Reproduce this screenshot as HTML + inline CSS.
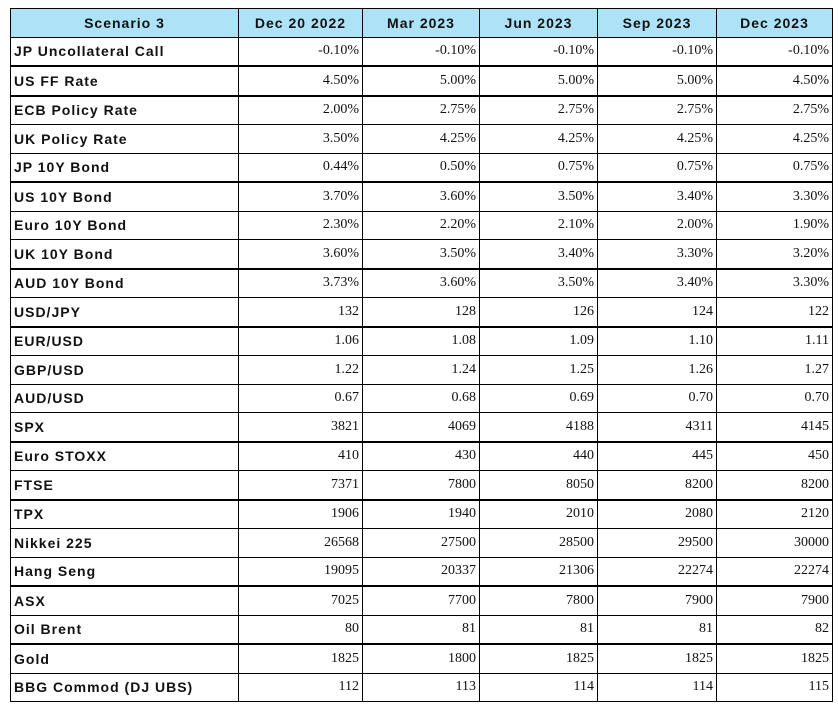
<!DOCTYPE html>
<html><head><meta charset="utf-8"><style>
body{margin:0;width:838px;height:710px;background:#fff;overflow:hidden}
table{position:absolute;left:10px;top:8px;border-collapse:collapse;table-layout:fixed;width:822px}
td,th{border:1px solid #000;height:27.5px;padding:0;white-space:nowrap;overflow:hidden;line-height:16px}
th{background:#aee3f7;font:bold 14px "Liberation Sans",sans-serif;letter-spacing:1px;text-align:center;color:#111}
td.l{font:bold 14px "Liberation Sans",sans-serif;letter-spacing:1px;padding-left:3px;color:#111}
td.v{font:14px "Liberation Serif",serif;text-align:right;padding-right:3px;color:#111}
tr.t td{border-bottom:2px solid #000}
</style></head><body>
<table>
<colgroup><col style="width:228px"><col style="width:124px"><col style="width:117px"><col style="width:118px"><col style="width:119px"><col style="width:116px"></colgroup>
<tr><th>Scenario 3</th><th>Dec 20 2022</th><th>Mar 2023</th><th>Jun 2023</th><th>Sep 2023</th><th>Dec 2023</th></tr>
<tr class="t"><td class="l">JP Uncollateral Call</td><td class="v">-0.10%</td><td class="v">-0.10%</td><td class="v">-0.10%</td><td class="v">-0.10%</td><td class="v">-0.10%</td></tr>
<tr class="t"><td class="l">US FF Rate</td><td class="v">4.50%</td><td class="v">5.00%</td><td class="v">5.00%</td><td class="v">5.00%</td><td class="v">4.50%</td></tr>
<tr><td class="l">ECB Policy Rate</td><td class="v">2.00%</td><td class="v">2.75%</td><td class="v">2.75%</td><td class="v">2.75%</td><td class="v">2.75%</td></tr>
<tr><td class="l">UK Policy Rate</td><td class="v">3.50%</td><td class="v">4.25%</td><td class="v">4.25%</td><td class="v">4.25%</td><td class="v">4.25%</td></tr>
<tr class="t"><td class="l">JP 10Y Bond</td><td class="v">0.44%</td><td class="v">0.50%</td><td class="v">0.75%</td><td class="v">0.75%</td><td class="v">0.75%</td></tr>
<tr><td class="l">US 10Y Bond</td><td class="v">3.70%</td><td class="v">3.60%</td><td class="v">3.50%</td><td class="v">3.40%</td><td class="v">3.30%</td></tr>
<tr><td class="l">Euro 10Y Bond</td><td class="v">2.30%</td><td class="v">2.20%</td><td class="v">2.10%</td><td class="v">2.00%</td><td class="v">1.90%</td></tr>
<tr class="t"><td class="l">UK 10Y Bond</td><td class="v">3.60%</td><td class="v">3.50%</td><td class="v">3.40%</td><td class="v">3.30%</td><td class="v">3.20%</td></tr>
<tr><td class="l">AUD 10Y Bond</td><td class="v">3.73%</td><td class="v">3.60%</td><td class="v">3.50%</td><td class="v">3.40%</td><td class="v">3.30%</td></tr>
<tr class="t"><td class="l">USD/JPY</td><td class="v">132</td><td class="v">128</td><td class="v">126</td><td class="v">124</td><td class="v">122</td></tr>
<tr><td class="l">EUR/USD</td><td class="v">1.06</td><td class="v">1.08</td><td class="v">1.09</td><td class="v">1.10</td><td class="v">1.11</td></tr>
<tr><td class="l">GBP/USD</td><td class="v">1.22</td><td class="v">1.24</td><td class="v">1.25</td><td class="v">1.26</td><td class="v">1.27</td></tr>
<tr><td class="l">AUD/USD</td><td class="v">0.67</td><td class="v">0.68</td><td class="v">0.69</td><td class="v">0.70</td><td class="v">0.70</td></tr>
<tr class="t"><td class="l">SPX</td><td class="v">3821</td><td class="v">4069</td><td class="v">4188</td><td class="v">4311</td><td class="v">4145</td></tr>
<tr><td class="l">Euro STOXX</td><td class="v">410</td><td class="v">430</td><td class="v">440</td><td class="v">445</td><td class="v">450</td></tr>
<tr class="t"><td class="l">FTSE</td><td class="v">7371</td><td class="v">7800</td><td class="v">8050</td><td class="v">8200</td><td class="v">8200</td></tr>
<tr><td class="l">TPX</td><td class="v">1906</td><td class="v">1940</td><td class="v">2010</td><td class="v">2080</td><td class="v">2120</td></tr>
<tr><td class="l">Nikkei 225</td><td class="v">26568</td><td class="v">27500</td><td class="v">28500</td><td class="v">29500</td><td class="v">30000</td></tr>
<tr class="t"><td class="l">Hang Seng</td><td class="v">19095</td><td class="v">20337</td><td class="v">21306</td><td class="v">22274</td><td class="v">22274</td></tr>
<tr><td class="l">ASX</td><td class="v">7025</td><td class="v">7700</td><td class="v">7800</td><td class="v">7900</td><td class="v">7900</td></tr>
<tr class="t"><td class="l">Oil Brent</td><td class="v">80</td><td class="v">81</td><td class="v">81</td><td class="v">81</td><td class="v">82</td></tr>
<tr><td class="l">Gold</td><td class="v">1825</td><td class="v">1800</td><td class="v">1825</td><td class="v">1825</td><td class="v">1825</td></tr>
<tr><td class="l">BBG Commod (DJ UBS)</td><td class="v">112</td><td class="v">113</td><td class="v">114</td><td class="v">114</td><td class="v">115</td></tr>
</table>
</body></html>
